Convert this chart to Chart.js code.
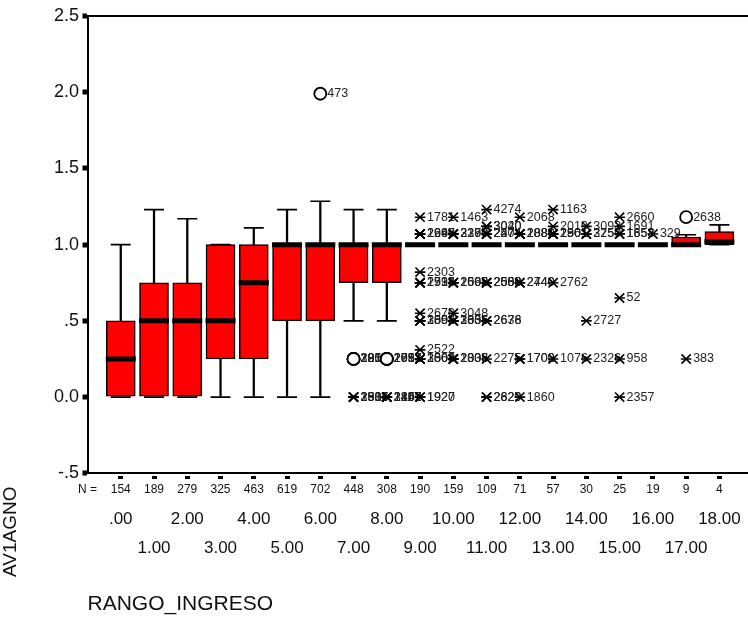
<!DOCTYPE html>
<html>
<head>
<meta charset="utf-8">
<title>AV1AGNO por RANGO_INGRESO</title>
<script src="https://cdn.jsdelivr.net/npm/chart.js@4"></script>
<style>
  body { margin: 0; background: #fff; }
  canvas { display: block; }
</style>
</head>
<body>
<canvas id="boxChart" width="748" height="619"></canvas>
<script>
const categories = ['.00', '1.00', '2.00', '3.00', '4.00', '5.00', '6.00', '7.00', '8.00', '9.00',
  '10.00', '11.00', '12.00', '13.00', '14.00', '15.00', '16.00', '17.00', '18.00'];
const nCounts = [154, 189, 279, 325, 463, 619, 702, 448, 308, 190, 159, 109, 71, 57, 30, 25, 19, 9, 4];

// box statistics per income range
const q1 =          [0,    0,    0,    0.25, 0.25, 0.5,  0.5,   0.75, 0.75, 1, 1, 1, 1, 1, 1, 1, 1, 1,     1];
const medians =     [0.25, 0.5,  0.5,  0.5,  0.75, 1,    1,     1,    1,    1, 1, 1, 1, 1, 1, 1, 1, 1,     1.02];
const q3 =          [0.5,  0.75, 0.75, 1,    1,    1,    1,     1,    1,    1, 1, 1, 1, 1, 1, 1, 1, 1.05,  1.085];
const whiskerLow =  [0,    0,    0,    0,    0,    0,    0,     0.5,  0.5,  1, 1, 1, 1, 1, 1, 1, 1, 1,     1];
const whiskerHigh = [1,    1.23, 1.17, 1,    1.11, 1.23, 1.285, 1.23, 1.23, 1, 1, 1, 1, 1, 1, 1, 1, 1.065, 1.13];

const yTicks = [-0.5, 0, 0.5, 1, 1.5, 2, 2.5];
const yTickLabels = ['-.5', '0.0', '.5', '1.0', '1.5', '2.0', '2.5'];

// outliers (circles)
const circleCat  = [6, 7, 7, 7, 7, 8, 8, 8, 8, 17];
const circleVal  = [1.99, 0.25, 0.25, 0.25, 0.25, 0.25, 0.25, 0.25, 0.25, 1.18];
const circleCase = ['473', '2950', '3004', '2216', '1817', '2057', '2997', '1613', '2781', '2638'];

// extreme values (asterisks)
const extremeCat = [
  7, 7, 7, 7,
  8, 8, 8, 8,
  9, 9, 9, 9, 9, 9, 9, 9, 9, 9, 9, 9, 9, 9, 9, 9, 9, 9,
  10, 10, 10, 10, 10, 10, 10, 10, 10, 10, 10, 10, 10, 10,
  11, 11, 11, 11, 11, 11, 11, 11, 11, 11, 11, 11, 11, 11,
  12, 12, 12, 12, 12, 12, 12, 12, 12,
  13, 13, 13, 13, 13, 13, 13,
  14, 14, 14, 14, 14,
  15, 15, 15, 15, 15, 15, 15,
  16, 17
];
const extremeVal = [
  0, 0, 0, 0,
  0, 0, 0, 0,
  1.18, 1.07, 1.07, 1.07, 0.82, 0.75, 0.75, 0.75, 0.55, 0.5, 0.5, 0.5, 0.31, 0.25, 0.25, 0.25, 0, 0,
  1.18, 1.07, 1.07, 1.07, 0.75, 0.75, 0.75, 0.55, 0.5, 0.5, 0.5, 0.25, 0.25, 0.25,
  1.23, 1.12, 1.12, 1.07, 1.07, 1.07, 0.75, 0.75, 0.75, 0.5, 0.5, 0.25, 0, 0,
  1.18, 1.07, 1.07, 1.07, 0.75, 0.75, 0.25, 0.25, 0,
  1.23, 1.12, 1.07, 1.07, 1.07, 0.75, 0.25,
  1.12, 1.07, 1.07, 0.5, 0.25,
  1.18, 1.12, 1.07, 1.07, 0.65, 0.25, 0,
  1.07, 0.25
];
const extremeCase = [
  '2934', '1587', '3305', '2611',
  '1442', '2807', '3117', '2259',
  '1781', '2690', '2245', '1967', '2303', '2598', '1734', '2915', '2670', '2505', '1898', '3051', '2522', '3009', '1504', '2863', '1920', '1927',
  '1463', '2290', '2377', '3169', '2665', '2008', '1592', '3048', '3006', '2836', '1655', '2006', '2838', '1305',
  '4274', '3020', '3040', '2274', '2404', '2574', '2558', '2500', '2088', '2638', '2676', '2275', '2629', '2829',
  '2068', '2081', '1889', '2880', '2440', '2740', '1702', '1700', '1860',
  '1163', '2019', '2801', '2561', '1901', '2762', '1076',
  '3093', '3257', '2750', '2727', '2326',
  '2660', '1691', '1653', '1858', '52', '958', '2357',
  '329', '383'
];

const FONT = '"Liberation Sans", Arial, sans-serif';
Chart.defaults.font.family = FONT;
Chart.defaults.color = '#111';

const idx = categories.map((c, i) => i);

const boxData = idx.map(i => ({ x: i, y: [q1[i], q3[i]] }));
const upperWhisker = idx.map(i => ({ x: i, y: [q3[i], whiskerHigh[i]] }));
const lowerWhisker = idx.map(i => ({ x: i, y: [whiskerLow[i], q1[i]] }));
const capData = idx.flatMap(i => [{ x: i, y: whiskerHigh[i] }, { x: i, y: whiskerLow[i] }]);
const medianData = idx.map(i => ({ x: i, y: medians[i] }));
const circleData = circleCat.map((c, k) => ({ x: c, y: circleVal[k] }));
const extremeData = extremeCat.map((c, k) => ({ x: c, y: extremeVal[k] }));

// case numbers next to outliers, and the vertical y title
const caseLabels = {
  id: 'caseLabels',
  beforeDatasetsDraw(chart) {
    const ctx = chart.ctx;
    ctx.save();
    ctx.font = '12.5px ' + FONT;
    ctx.fillStyle = '#222';
    ctx.textBaseline = 'middle';
    ctx.textAlign = 'left';
    chart.data.datasets.forEach((ds, d) => {
      if (!ds.caseIds) return;
      chart.getDatasetMeta(d).data.forEach((pt, k) => {
        ctx.fillText(ds.caseIds[k], pt.x + 7, pt.y);
      });
    });
    ctx.restore();
  },
  afterDraw(chart) {
    const ctx = chart.ctx;
    ctx.save();
    ctx.font = '19px ' + FONT;
    ctx.fillStyle = '#111';
    ctx.translate(11, 577);
    ctx.rotate(-Math.PI / 2);
    ctx.textAlign = 'left';
    ctx.textBaseline = 'middle';
    ctx.fillText('AV1AGNO', 0, 0);
    ctx.restore();
  }
};

// keep the plot edges fixed instead of letting tick labels push them in
const noPadding = axis => {
  axis.paddingLeft = 0;
  axis.paddingRight = 0;
  axis.paddingTop = 0;
  axis.paddingBottom = 0;
};

const barBase = { type: 'bar', grouped: false, borderSkipped: false };

new Chart(document.getElementById('boxChart'), {
  type: 'bar',
  data: {
    datasets: [
      Object.assign({}, barBase, { data: upperWhisker, barThickness: 1.6, backgroundColor: '#000', borderWidth: 0, order: 6 }),
      Object.assign({}, barBase, { data: lowerWhisker, barThickness: 1.6, backgroundColor: '#000', borderWidth: 0, order: 6 }),
      {
        type: 'scatter', data: capData, order: 5,
        pointStyle: 'line', pointRadius: 10, pointBorderWidth: 1.6, pointBorderColor: '#000'
      },
      Object.assign({}, barBase, {
        data: boxData, barThickness: 29, backgroundColor: '#ff0000',
        borderColor: '#000', borderWidth: 1.5, order: 4
      }),
      {
        type: 'scatter', data: medianData, order: 3,
        pointStyle: 'line', pointRadius: 15, pointBorderWidth: 5, pointBorderColor: '#000'
      },
      {
        type: 'scatter', data: circleData, caseIds: circleCase, order: 1,
        pointStyle: 'circle', pointRadius: 6, pointBorderWidth: 1.8,
        pointBorderColor: '#000', pointBackgroundColor: '#fff'
      },
      {
        type: 'scatter', data: extremeData, caseIds: extremeCase, order: 1,
        pointStyle: 'crossRot', pointRadius: 6.5, pointBorderWidth: 1.6, pointBorderColor: '#000'
      },
      {
        type: 'scatter', data: extremeData, order: 1,
        pointStyle: 'line', pointRadius: 5.3, pointBorderWidth: 1.6, pointBorderColor: '#000'
      }
    ]
  },
  options: {
    responsive: false,
    animation: false,
    events: [],
    layout: { autoPadding: false, padding: { top: 16, left: 0, right: 0, bottom: 0 } },
    plugins: {
      legend: { display: false },
      tooltip: { enabled: false }
    },
    scales: {
      x: {
        type: 'linear',
        position: 'bottom',
        weight: 0,
        min: -1,
        max: 18.86,
        offset: false,
        afterBuildTicks: axis => {
          axis.ticks = [{ value: -1 }].concat(idx.map(i => ({ value: i })));
        },
        afterFit: axis => { axis.height = 27; noPadding(axis); },
        ticks: {
          autoSkip: false,
          maxRotation: 0,
          minRotation: 0,
          padding: 3.5,
          font: { size: 12 },
          callback: v => (v < 0 ? 'N =' : String(nCounts[v]))
        },
        grid: {
          offset: false,
          drawOnChartArea: false,
          tickLength: 6,
          tickWidth: 5,
          tickBorderDash: [0, 2, 3, 50],
          tickColor: ctx => (ctx.tick && ctx.tick.value < 0 ? 'rgba(0,0,0,0)' : '#000')
        },
        border: { display: true, color: '#000', width: 2 }
      },
      xCat: {
        type: 'linear',
        position: 'bottom',
        weight: 1,
        min: -1,
        max: 18.86,
        offset: false,
        afterBuildTicks: axis => {
          axis.ticks = idx.map(i => ({ value: i }));
        },
        afterFit: axis => { axis.height = 118.7; noPadding(axis); },
        ticks: {
          autoSkip: false,
          maxRotation: 0,
          minRotation: 0,
          padding: -3.5,
          font: { size: 17, lineHeight: '29px' },
          callback: v => (v % 2 === 0 ? [categories[v]] : ['', categories[v]])
        },
        grid: { display: false },
        border: { display: false },
        title: {
          display: true,
          text: 'RANGO_INGRESO',
          align: 'start',
          font: { size: 21 },
          color: '#111',
          padding: { top: 0, bottom: 2 }
        }
      },
      y: {
        type: 'linear',
        min: -0.5,
        max: 2.5,
        afterBuildTicks: axis => {
          axis.ticks = yTicks.map(v => ({ value: v }));
        },
        afterFit: axis => { axis.width = 87.5; noPadding(axis); },
        ticks: {
          padding: 3.5,
          font: { size: 18 },
          callback: v => yTickLabels[yTicks.indexOf(v)]
        },
        grid: {
          drawOnChartArea: true,
          lineWidth: 2,
          color: ctx => (ctx.tick && ctx.tick.value === 2.5 ? '#000' : 'rgba(0,0,0,0)'),
          tickColor: '#000',
          tickLength: 5,
          tickWidth: 5
        },
        border: { display: true, color: '#000', width: 2 }
      }
    }
  },
  plugins: [caseLabels]
});
</script>
</body>
</html>
